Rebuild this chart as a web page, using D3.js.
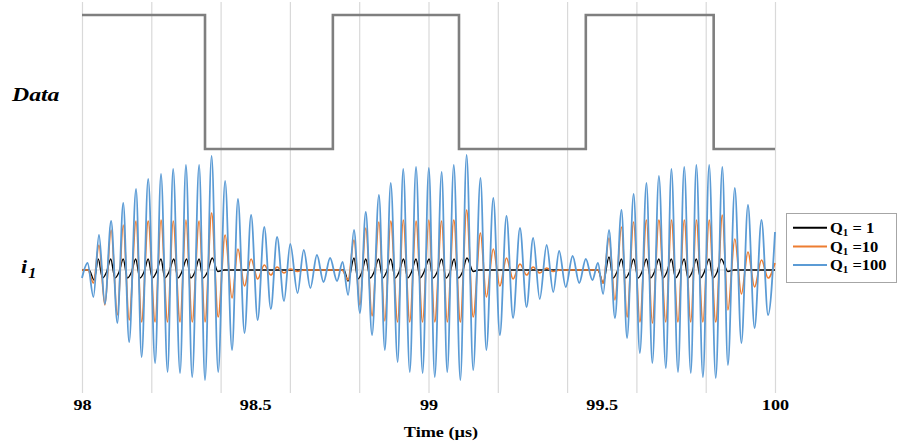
<!DOCTYPE html>
<html><head><meta charset="utf-8">
<script src="https://cdn.jsdelivr.net/npm/d3@7"></script>
<style>
body{margin:0;background:#fff}
svg{display:block}
text{font-family:"Liberation Serif","Times New Roman",serif;font-weight:bold;fill:#000}
</style>
</head><body>
<svg id="chart" width="899" height="446"></svg>
<script>
// ---- data ----
const gridTicks = [98, 98.2, 98.4, 98.6, 98.8, 99, 99.2, 99.4, 99.6, 99.8, 100];
const labelTicks = [98, 98.5, 99, 99.5, 100];
const xTitle = "Time (µs)";
// Data bit stream: [time µs, level]
const dataBits = [[98,1],[98.355,0],[98.724,1],[99.088,0],[99.454,1],[99.823,0],[100,0]];
// legend labels: [main, subscript, rest]
const legendLabels = [["Q","1"," = 1"],["Q","1"," =10"],["Q","1"," =100"]];
// i1 current (arbitrary units), extrema: [time µs, value]
const q1 = [[98.000,0],[98.020,0],[98.035,-10],[98.047,11],[98.059,-8],[98.071,-2],[98.083,11],[98.095,-8],[98.107,-2],[98.119,11],[98.131,-8],[98.143,-2],[98.155,11],[98.167,-8],[98.179,-2],[98.191,11],[98.203,-8],[98.215,-2],[98.228,11],[98.239,-8],[98.251,-2],[98.265,11],[98.277,-8],[98.288,-2],[98.302,11],[98.314,-8],[98.326,-2],[98.338,11],[98.349,-8],[98.362,-2],[98.376,12],[98.392,-1.5],[98.410,0],
[98.756,0],[98.768,-11],[98.785,12],[98.796,-9],[98.808,-2],[98.819,11],[98.832,-8],[98.843,-2],[98.856,11],[98.868,-8],[98.879,-2],[98.891,11],[98.904,-8],[98.915,-2],[98.928,11],[98.940,-8],[98.951,-2],[98.964,11],[98.976,-8],[98.987,-2],[99.002,11],[99.013,-8],[99.025,-2],[99.038,11],[99.051,-8],[99.062,-2],[99.074,11],[99.086,-8],[99.098,-2],[99.111,12],[99.129,-1.5],[99.145,0],
[99.489,0],[99.504,-13],[99.521,13],[99.533,-8],[99.544,-2],[99.557,11],[99.569,-8],[99.580,-2],[99.592,11],[99.605,-8],[99.616,-2],[99.629,11],[99.641,-8],[99.652,-2],[99.665,11],[99.677,-8],[99.688,-2],[99.701,11],[99.713,-8],[99.724,-2],[99.738,11],[99.749,-8],[99.761,-2],[99.773,11],[99.785,-8],[99.796,-2],[99.810,11],[99.821,-8],[99.833,-2],[99.845,11],[99.864,-1.5],[99.881,0],[100,0]];
const q10 = [[98.000,0],[98.017,0],[98.033,-13],[98.049,25],[98.066,-35],[98.084,40],[98.102,-45],[98.119,45],[98.136,-50],[98.156,49],[98.172,-52],[98.191,49],[98.211,-52],[98.228,50],[98.247,-52],[98.263,49],[98.283,-52],[98.300,50],[98.318,-52],[98.338,49],[98.355,-52],[98.374,57],[98.393,-47],[98.413,35],[98.433,-28],[98.450,21],[98.469,-16],[98.488,11],[98.507,-9],[98.526,5],[98.545,-5],[98.563,3],[98.583,-3],[98.601,1],[98.622,-1.5],[98.640,0],
[98.750,0],[98.768,-10],[98.785,30],[98.802,-35],[98.819,42],[98.837,-46],[98.857,48],[98.874,-51],[98.891,49],[98.911,-52],[98.927,50],[98.946,-52],[98.964,49],[98.983,-52],[99.001,50],[99.018,-52],[99.038,49],[99.054,-52],[99.073,50],[99.092,-52],[99.110,60],[99.129,-47],[99.150,37],[99.167,-27],[99.187,21],[99.206,-16],[99.225,12],[99.244,-9],[99.264,6],[99.283,-5],[99.302,3],[99.321,-3],[99.341,2],[99.360,-1.5],[99.379,0],
[99.489,0],[99.504,-13],[99.521,32],[99.538,-30],[99.557,43],[99.573,-47],[99.592,48],[99.610,-52],[99.629,50],[99.646,-53],[99.665,50],[99.685,-52],[99.701,50],[99.720,-52],[99.738,50],[99.757,-52],[99.773,50],[99.792,-52],[99.810,50],[99.829,-52],[99.848,55],[99.864,-40],[99.884,31],[99.903,-24],[99.922,18],[99.941,-17],[99.961,10],[99.980,-8],[100.000,7]];
const q100 = [[98.000,-8],[98.016,7],[98.033,-27],[98.049,35],[98.066,-34],[98.084,49],[98.102,-53],[98.119,67],[98.136,-72],[98.156,81],[98.172,-87],[98.191,91],[98.211,-93],[98.228,96],[98.247,-102],[98.263,101],[98.283,-103],[98.300,105],[98.318,-107],[98.338,105],[98.355,-110],[98.374,114],[98.393,-102],[98.413,89],[98.433,-80],[98.450,71],[98.469,-63],[98.488,55],[98.507,-50],[98.526,43],[98.545,-39],[98.563,33],[98.583,-31],[98.601,26],[98.622,-23],[98.640,20],[98.659,-18],[98.678,15],[98.697,-12],[98.716,12],[98.736,-11],[98.752,8],[98.768,-25],[98.785,40],[98.802,-43],[98.819,58],[98.837,-65],[98.857,75],[98.874,-80],[98.891,87],[98.911,-92],[98.927,101],[98.946,-102],[98.964,103],[98.983,-103],[99.001,102],[99.018,-107],[99.038,98],[99.054,-102],[99.073,105],[99.092,-110],[99.110,115],[99.129,-100],[99.150,92],[99.167,-80],[99.187,72],[99.206,-65],[99.225,54],[99.244,-48],[99.264,42],[99.283,-37],[99.302,32],[99.321,-29],[99.341,25],[99.360,-22],[99.377,19],[99.396,-17],[99.416,14],[99.435,-13],[99.454,11],[99.473,-10],[99.489,7],[99.504,-24],[99.521,40],[99.538,-48],[99.557,60],[99.573,-68],[99.592,76],[99.610,-83],[99.629,87],[99.646,-93],[99.665,94],[99.685,-98],[99.701,101],[99.720,-102],[99.738,103],[99.757,-103],[99.773,105],[99.792,-107],[99.810,105],[99.829,-108],[99.848,103],[99.864,-95],[99.884,82],[99.903,-73],[99.922,65],[99.941,-58],[99.961,50],[99.980,-45],[100.000,38]];

// ---- drawing ----
const svg = d3.select("#chart");
const x = d3.scaleLinear().domain([98, 100]).range([82, 775]);
const yI = d3.scaleLinear().domain([-125, 125]).range([395, 145]);
const yD = d3.scaleLinear().domain([0, 1]).range([149, 15]);
const gridTop = 2, gridBottom = 393;
const sx = 1.3; // horizontal text stretch seen in the reference

// vertical gridlines
const grid = svg.append("g").attr("transform", `translate(0,${gridBottom})`)
  .call(d3.axisBottom(x).tickValues(gridTicks).tickSize(-(gridBottom - gridTop)).tickFormat(""));
grid.select(".domain").remove();
grid.selectAll("line").attr("stroke", "#d9d9d9").attr("stroke-width", 1.2);

// tick labels
const ax = svg.append("g").attr("transform", `translate(0,${gridBottom})`)
  .call(d3.axisBottom(x).tickValues(labelTicks).tickSize(0).tickPadding(7).tickFormat(d3.format("")));
ax.select(".domain").remove();
ax.attr("font-family", null);
ax.selectAll("text").attr("font-size", 14).attr("transform", `scale(${sx},1)`);

// x title
svg.append("text").attr("transform", `translate(441,437) scale(${sx},1)`)
  .attr("text-anchor", "middle").attr("font-size", 14).text(xTitle);

// zero line of i1
svg.append("line").attr("x1", x(98)).attr("x2", x(100)).attr("y1", yI(0)).attr("y2", yI(0))
  .attr("stroke", "#d9d9d9").attr("stroke-width", 1.2);

// Data waveform
svg.append("path").datum(dataBits)
  .attr("d", d3.line().x(d => x(d[0])).y(d => yD(d[1])).curve(d3.curveStepAfter))
  .attr("fill", "none").attr("stroke", "#7f7f7f").attr("stroke-width", 2.6);

// current series
const colors = ["#000000", "#ED7D31", "#5B9BD5"];
const widths = [1.4, 1.7, 1.8];
const line = d3.line().x(d => x(d[0])).y(d => yI(d[1])).curve(d3.curveMonotoneX);
[q1, q10, q100].forEach((s, i) => {
  svg.append("path").datum(s).attr("d", line)
    .attr("fill", "none").attr("stroke", colors[i]).attr("stroke-width", widths[i])
    .attr("stroke-linejoin", "round");
});

// left labels
svg.append("text").attr("transform", `translate(12,101) scale(1.25,1)`)
  .attr("font-size", 19).attr("font-style", "italic").text("Data");
const il = svg.append("text").attr("transform", "translate(21,273) scale(1.15,1)")
  .attr("font-size", 19).attr("font-style", "italic");
il.append("tspan").text("i");
il.append("tspan").attr("font-size", 14).attr("dy", 5).attr("dx", 1).text("1");

// legend
const lg = svg.append("g");
lg.append("rect").attr("x", 786.5).attr("y", 213.5).attr("width", 110).attr("height", 69)
  .attr("fill", "#fff").attr("stroke", "#a6a6a6").attr("stroke-width", 1);
const rowY = [227.7, 246.5, 265];
legendLabels.forEach((lab, i) => {
  lg.append("line").attr("x1", 793).attr("x2", 827).attr("y1", rowY[i]).attr("y2", rowY[i])
    .attr("stroke", colors[i]).attr("stroke-width", 2);
  const t = lg.append("text").attr("transform", `translate(830,${rowY[i] + 5.3}) scale(1.1,1)`)
    .attr("font-size", 15);
  t.append("tspan").text(lab[0]);
  t.append("tspan").attr("font-size", 10).attr("dy", 3).text(lab[1]);
  t.append("tspan").attr("dy", -3).text(lab[2]);
});
</script>
</body></html>
